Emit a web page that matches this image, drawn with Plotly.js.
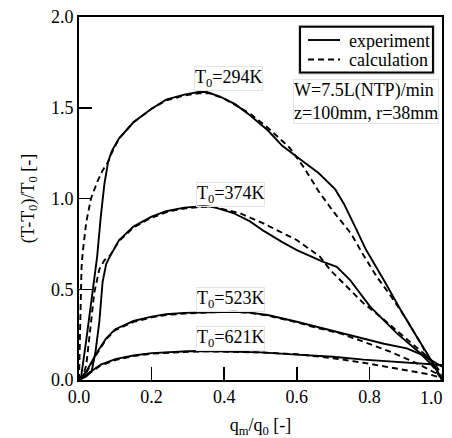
<!DOCTYPE html>
<html>
<head>
<meta charset="utf-8">
<script src="https://cdn.plot.ly/plotly-3.0.1.min.js"></script>
<style>html,body{margin:0;padding:0;background:#fff;}#chart{width:452px;height:438px;}</style>
</head>
<body>
<div id="chart"></div>
<script>
// ---- data ----
const exp294_x = [0, 0.006, 0.02, 0.035, 0.05, 0.06, 0.07, 0.08, 0.09, 0.11, 0.15, 0.2, 0.24, 0.29, 0.33, 0.35, 0.39, 0.43, 0.47, 0.52, 0.56, 0.61, 0.66, 0.706, 0.73, 0.765, 0.79, 0.84, 0.885, 0.93, 0.97, 1.0];
const exp294_y = [0, 0.02, 0.22, 0.45, 0.68, 0.9, 1.08, 1.2, 1.26, 1.33, 1.42, 1.495, 1.545, 1.572, 1.587, 1.588, 1.56, 1.52, 1.46, 1.376, 1.29, 1.215, 1.14, 1.05, 0.97, 0.826, 0.72, 0.55, 0.39, 0.24, 0.11, 0.0];
const calc294_x = [0, 0.003, 0.005, 0.007, 0.01, 0.02, 0.033, 0.05, 0.065, 0.08, 0.09, 0.11, 0.15, 0.2, 0.24, 0.29, 0.33, 0.36, 0.4, 0.47, 0.52, 0.58, 0.62, 0.66, 0.7, 0.75, 0.78, 0.82, 0.86, 0.9, 0.945, 0.97, 1.0];
const calc294_y = [0, 0.2, 0.45, 0.62, 0.7, 0.87, 1.0, 1.09, 1.155, 1.2, 1.25, 1.33, 1.42, 1.495, 1.54, 1.568, 1.58, 1.58, 1.55, 1.47, 1.39, 1.28, 1.17, 1.04, 0.93, 0.805, 0.7, 0.57, 0.46, 0.34, 0.19, 0.09, 0.0];

const exp374_x = [0, 0.02, 0.035, 0.045, 0.056, 0.065, 0.075, 0.085, 0.11, 0.15, 0.2, 0.24, 0.29, 0.34, 0.37, 0.425, 0.47, 0.51, 0.56, 0.6, 0.673, 0.71, 0.747, 0.802, 0.876, 0.94, 0.986, 1.0];
const exp374_y = [0, 0.02, 0.05, 0.15, 0.32, 0.54, 0.64, 0.68, 0.77, 0.845, 0.9, 0.93, 0.95, 0.958, 0.954, 0.92, 0.875, 0.82, 0.76, 0.716, 0.651, 0.624, 0.55, 0.404, 0.257, 0.147, 0.055, 0.0];
const calc374_x = [0, 0.01, 0.02, 0.03, 0.042, 0.056, 0.07, 0.085, 0.11, 0.15, 0.2, 0.25, 0.3, 0.35, 0.38, 0.444, 0.508, 0.6, 0.664, 0.692, 0.738, 0.784, 0.83, 0.894, 0.949, 0.986, 0.998];
const calc374_y = [0, 0.02, 0.08, 0.26, 0.48, 0.61, 0.66, 0.685, 0.765, 0.84, 0.895, 0.93, 0.948, 0.955, 0.95, 0.918, 0.863, 0.771, 0.679, 0.606, 0.514, 0.422, 0.349, 0.239, 0.147, 0.073, 0.03];

const exp523_x = [0, 0.02, 0.048, 0.075, 0.1, 0.15, 0.2, 0.24, 0.29, 0.33, 0.38, 0.43, 0.47, 0.52, 0.6, 0.71, 0.784, 0.84, 0.903, 0.95, 1.0];
const exp523_y = [0, 0.046, 0.147, 0.23, 0.28, 0.325, 0.349, 0.362, 0.37, 0.372, 0.376, 0.376, 0.371, 0.358, 0.321, 0.266, 0.229, 0.2, 0.174, 0.135, 0.073];
const calc523_x = [0, 0.02, 0.048, 0.075, 0.1, 0.15, 0.2, 0.24, 0.29, 0.33, 0.38, 0.43, 0.47, 0.52, 0.6, 0.65, 0.719, 0.784, 0.857, 0.931, 0.977, 1.0];
const calc523_y = [0, 0.04, 0.14, 0.225, 0.275, 0.32, 0.345, 0.358, 0.366, 0.37, 0.374, 0.375, 0.37, 0.355, 0.318, 0.29, 0.257, 0.211, 0.156, 0.092, 0.046, 0.02];

const exp621_x = [0, 0.03, 0.06, 0.1, 0.15, 0.2, 0.25, 0.3, 0.35, 0.42, 0.5, 0.6, 0.7, 0.784, 0.9, 1.0];
const exp621_y = [0, 0.045, 0.085, 0.115, 0.135, 0.148, 0.155, 0.158, 0.16, 0.158, 0.152, 0.14, 0.128, 0.112, 0.098, 0.083];
const calc621_x = [0, 0.03, 0.06, 0.1, 0.15, 0.2, 0.25, 0.3, 0.35, 0.42, 0.5, 0.6, 0.7, 0.784, 0.85, 0.9, 0.968, 1.0];
const calc621_y = [0, 0.04, 0.08, 0.11, 0.132, 0.145, 0.152, 0.156, 0.158, 0.157, 0.152, 0.142, 0.12, 0.095, 0.072, 0.055, 0.03, 0.01];

const curveLabels = ["T<sub>0</sub>=294K", "T<sub>0</sub>=374K", "T<sub>0</sub>=523K", "T<sub>0</sub>=621K"];
const labelX = [0.413, 0.418, 0.418, 0.418];
const labelY = [1.663, 1.023, 0.446, 0.226];
const xTicks = [0, 0.2, 0.4, 0.6, 0.8, 1.0];
const xTickText = ["0.0", "0.2", "0.4", "0.6", "0.8", ""];
const xLastTickText = "1.0";   // drawn right-aligned at the axis end, as in the reference
const yTicks = [0, 0.5, 1.0, 1.5, 2.0];
const yTickText = ["0.0", "0.5", "1.0", "1.5", "2.0"];
const seriesNames = ["experiment", "calculation"];
const conditionText = "W=7.5L(NTP)/min<br>z=100mm, r=38mm";

// ---- build traces ----
const FONT = "Liberation Serif";
const solid = {color: "#000", width: 1.9, dash: "solid"};
const dashed = {color: "#000", width: 1.9, dash: "6px,4px"};
const expSets = [[exp294_x, exp294_y], [exp374_x, exp374_y], [exp523_x, exp523_y], [exp621_x, exp621_y]];
const calcSets = [[calc294_x, calc294_y], [calc374_x, calc374_y], [calc523_x, calc523_y], [calc621_x, calc621_y]];
const traces = [];
expSets.forEach((s, i) => traces.push({x: s[0], y: s[1], mode: "lines", type: "scatter", line: solid,
  name: seriesNames[0] + " " + curveLabels[i].replace(/<\/?sub>/g, ""), showlegend: false}));
calcSets.forEach((s, i) => traces.push({x: s[0], y: s[1], mode: "lines", type: "scatter", line: dashed,
  name: seriesNames[1] + " " + curveLabels[i].replace(/<\/?sub>/g, ""), showlegend: false}));

const txtFont = {family: FONT, size: 18, color: "#000"};
const annotations = curveLabels.map((t, i) => ({
  x: labelX[i], y: labelY[i], xref: "x", yref: "y", text: t, showarrow: false,
  font: txtFont, bordercolor: "#e4e4e4", borderwidth: 1, borderpad: 0
}));
annotations.push({
  x: 0.59, y: 1.534, xref: "paper", yref: "y", xanchor: "left", yanchor: "middle", align: "left",
  text: conditionText, showarrow: false, font: txtFont,
  bordercolor: "#e4e4e4", borderwidth: 1, borderpad: 0
});
// last x tick label, right-aligned so it stays inside the figure
annotations.push({
  x: xTicks[xTicks.length - 1], y: 0, xref: "x", yref: "paper", xanchor: "right", yanchor: "top",
  xshift: 3, yshift: -6, text: xLastTickText, showarrow: false, font: txtFont
});

// legend (box, line samples and texts), placed in paper coordinates
const legX0 = 0.609, legX1 = 0.975, legY0 = 0.847, legY1 = 0.973;
const legRows = [0.9366, 0.8829];
const legStyles = [solid, dashed];
const shapes = [
  {type: "rect", xref: "paper", yref: "paper", x0: legX0 - 0.004, x1: legX1 + 0.004, y0: legY0 - 0.004, y1: legY1 + 0.004,
    line: {color: "#c8c8c8", width: 1}, fillcolor: "rgba(0,0,0,0)", layer: "above"},
  {type: "rect", xref: "paper", yref: "paper", x0: legX0, x1: legX1, y0: legY0, y1: legY1,
    line: {color: "#000", width: 2}, fillcolor: "#fff", layer: "above"}
];
seriesNames.forEach((n, i) => {
  shapes.push({type: "line", xref: "paper", yref: "paper", x0: 0.631, x1: 0.719, y0: legRows[i], y1: legRows[i],
    line: legStyles[i], layer: "above"});
  annotations.push({x: 0.738, y: legRows[i], xref: "paper", yref: "paper", xanchor: "left", yanchor: "middle",
    text: n, showarrow: false, font: txtFont, height: 19, valign: "middle"});
});

const layout = {
  width: 452, height: 438,
  margin: {l: 79, r: 10, t: 17, b: 58, pad: 0},
  paper_bgcolor: "#fff", plot_bgcolor: "#fff",
  font: txtFont,
  showlegend: false,
  xaxis: {range: [0, 1], tickvals: xTicks, ticktext: xTickText,
    ticks: "inside", ticklen: 13, tickwidth: 1.5, tickcolor: "#000",
    showline: true, linecolor: "#000", linewidth: 1.8, mirror: true, showgrid: false, zeroline: false,
    title: {text: "q<sub>m</sub>/q<sub>0</sub> [-]", font: {family: FONT, size: 18}, standoff: 16},
    tickfont: {family: FONT, size: 18}},
  yaxis: {range: [0, 2], tickvals: yTicks, ticktext: yTickText,
    ticks: "inside", ticklen: 13, tickwidth: 1.5, tickcolor: "#000",
    showline: true, linecolor: "#000", linewidth: 1.8, mirror: true, showgrid: false, zeroline: false,
    title: {text: "(T-T<sub>0</sub>)/T<sub>0</sub> [-]", font: {family: FONT, size: 18}, standoff: 12},
    tickfont: {family: FONT, size: 18}},
  shapes: shapes,
  annotations: annotations
};

Plotly.newPlot("chart", traces, layout, {staticPlot: true, displayModeBar: false});
</script>
</body>
</html>
